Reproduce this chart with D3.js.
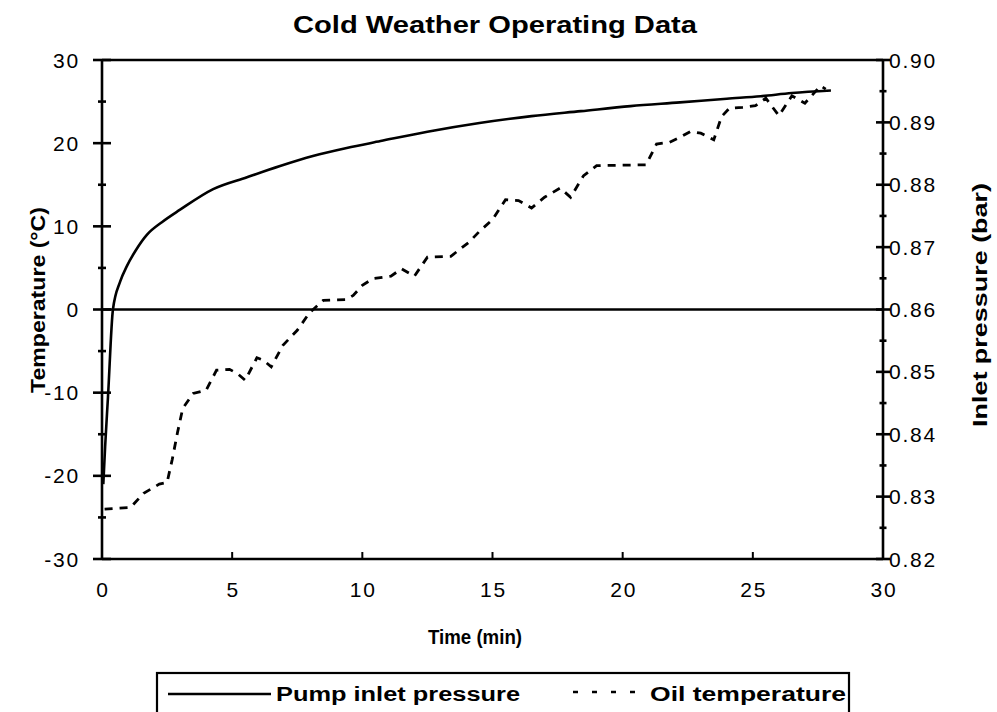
<!DOCTYPE html>
<html>
<head>
<meta charset="utf-8">
<script src="https://cdn.jsdelivr.net/npm/d3@7"></script>
<style>
  body { margin: 0; background: #fff; }
  svg { display: block; font-family: "Liberation Sans", Arial, sans-serif; }
</style>
</head>
<body>
<svg id="svg" width="997" height="712"></svg>
<script>
// values
const pumpTime = [0.05, 0.12, 0.23, 0.42, 0.7, 0.96, 1.3, 1.73, 2.3, 3.0, 4.27, 5.57, 6.84, 8.1, 9.4, 10.7, 12.5, 14.5, 16.5, 18.4, 20.3, 22.2, 24.0, 25.3, 26.5, 28.0];
const pumpPressure = [0.832, 0.838, 0.846, 0.860, 0.8645, 0.867, 0.8695, 0.872, 0.874, 0.876, 0.8793, 0.8812, 0.883, 0.8846, 0.8859, 0.887, 0.8885, 0.8899, 0.891, 0.8918, 0.8926, 0.8932, 0.8938, 0.8942, 0.8947, 0.8951];

const oilTime = [0.1, 1.1, 1.6, 2.2, 2.5, 2.7, 2.9, 3.1, 3.5, 4.0, 4.4, 4.9, 5.2, 5.5, 5.95, 6.2, 6.5, 6.95, 7.5, 7.97, 8.5, 9.4, 9.65, 10.0, 10.4, 11.1, 11.5, 12.0, 12.5, 13.4, 14.1, 14.5, 15.0, 15.5, 16.0, 16.5, 17.0, 17.6, 18.0, 18.5, 19.0, 20.9, 21.3, 21.8, 22.2, 22.6, 23.0, 23.5, 23.8, 24.1, 24.6, 25.1, 25.5, 26.0, 26.5, 27.0, 27.6, 27.8];
const oilTemp = [-24, -23.8, -22.1, -21, -20.8, -18, -14.8, -11.9, -10.1, -9.7, -7.3, -7.2, -7.7, -8.5, -5.8, -6.1, -6.9, -4.3, -2.5, -0.4, 1.1, 1.2, 1.7, 2.9, 3.7, 4.0, 4.9, 4.0, 6.3, 6.4, 8.1, 9.4, 10.8, 13.2, 13.1, 12.2, 13.5, 14.6, 13.5, 16.1, 17.3, 17.4, 19.9, 20.1, 20.7, 21.4, 21.2, 20.4, 23.2, 24.2, 24.3, 24.5, 25.4, 23.3, 25.7, 24.8, 26.9, 26.5];

const timeTicks = [0, 5, 10, 15, 20, 25, 30];
const tempTicks = [-30, -20, -10, 0, 10, 20, 30];
const pressTicks = [0.82, 0.83, 0.84, 0.85, 0.86, 0.87, 0.88, 0.89, 0.90];

const svg = d3.select("#svg");

const LEFT = 102, RIGHT = 883, TOP = 60, BOTTOM = 559;
const STROKE = 2.6;

const x = d3.scaleLinear().domain([0, 30]).range([LEFT, RIGHT]);
const yT = d3.scaleLinear().domain([-30, 30]).range([BOTTOM, TOP]);
const yP = d3.scaleLinear().domain([0.82, 0.90]).range([BOTTOM, TOP]);

// frame lines: top border, zero line, bottom axis, side axes
const g = svg.append("g").attr("stroke", "#000").attr("stroke-width", STROKE);
[30, 0, -30].forEach((v) => {
	g.append("line").attr("x1", x(0)).attr("x2", x(30)).attr("y1", yT(v)).attr("y2", yT(v));
});
g.append("line").attr("x1", x(0)).attr("x2", x(0)).attr("y1", yT(30)).attr("y2", yT(-30));
g.append("line").attr("x1", x(30)).attr("x2", x(30)).attr("y1", yT(30)).attr("y2", yT(-30));

// left axis ticks (cross the axis)
const tempMinor = d3.range(-25, 30, 10);
g.selectAll(".tmaj").data(tempTicks).join("line")
	.attr("class", "tmaj")
	.attr("x1", x(0) - 9).attr("x2", x(0) + 9)
	.attr("y1", (d) => yT(d)).attr("y2", (d) => yT(d));
g.selectAll(".tmin").data(tempMinor).join("line")
	.attr("class", "tmin")
	.attr("x1", x(0) - 4).attr("x2", x(0) + 4)
	.attr("y1", (d) => yT(d)).attr("y2", (d) => yT(d));

// right axis ticks
const pressMinor = d3.range(0.825, 0.9, 0.01);
g.selectAll(".pmaj").data(pressTicks).join("line")
	.attr("class", "pmaj")
	.attr("x1", x(30) - 7).attr("x2", x(30) + 7)
	.attr("y1", (d) => yP(d)).attr("y2", (d) => yP(d));
g.selectAll(".pmin").data(pressMinor).join("line")
	.attr("class", "pmin")
	.attr("x1", x(30) - 3.5).attr("x2", x(30) + 3.5)
	.attr("y1", (d) => yP(d)).attr("y2", (d) => yP(d));

// bottom ticks, pointing up
g.selectAll(".xt").data(timeTicks.slice(1, -1)).join("line")
	.attr("class", "xt")
	.attr("stroke-width", 2)
	.attr("x1", (d) => x(d)).attr("x2", (d) => x(d))
	.attr("y1", BOTTOM).attr("y2", BOTTOM - 7);

// tick labels
const tickFont = (sel) => sel.attr("font-size", 21).attr("letter-spacing", 1.8).attr("fill", "#000");

svg.append("g").selectAll("text").data(tempTicks).join("text")
	.call(tickFont)
	.attr("x", 80).attr("y", (d) => yT(d) + 7.5)
	.attr("text-anchor", "end")
	.text((d) => d);

svg.append("g").selectAll("text").data(pressTicks).join("text")
	.call(tickFont)
	.attr("x", 889).attr("y", (d) => yP(d) + 7.5)
	.text((d) => d.toFixed(2));

svg.append("g").selectAll("text").data(timeTicks).join("text")
	.call(tickFont)
	.attr("x", (d) => x(d) + 1).attr("y", 597)
	.attr("text-anchor", "middle")
	.text((d) => d);

// series
const pumpData = pumpTime.map((t, i) => ({ t, v: pumpPressure[i] }));
const oilData = oilTime.map((t, i) => ({ t, v: oilTemp[i] }));

svg.append("path")
	.datum(pumpData)
	.attr("fill", "none").attr("stroke", "#000").attr("stroke-width", STROKE)
	.attr("d", d3.line().x((d) => x(d.t)).y((d) => yP(d.v)).curve(d3.curveMonotoneX));

svg.append("path")
	.datum(oilData)
	.attr("fill", "none").attr("stroke", "#000").attr("stroke-width", 2.8)
	.attr("stroke-dasharray", "8,7")
	.attr("d", d3.line().x((d) => x(d.t)).y((d) => yT(d.v)));

// titles
const bold = (sel) => sel.attr("font-weight", "bold").attr("fill", "#000").attr("lengthAdjust", "spacingAndGlyphs");

svg.append("text").call(bold)
	.attr("x", 293).attr("y", 33).attr("font-size", 23).attr("textLength", 404)
	.text("Cold Weather Operating Data");

svg.append("text").call(bold)
	.attr("x", 428).attr("y", 644).attr("font-size", 21).attr("textLength", 94)
	.text("Time (min)");

svg.append("text").call(bold)
	.attr("transform", "translate(45,393) rotate(-90)")
	.attr("font-size", 20).attr("textLength", 186)
	.text("Temperature (°C)");

svg.append("text").call(bold)
	.attr("transform", "translate(987,427) rotate(-90)")
	.attr("font-size", 20).attr("textLength", 244)
	.text("Inlet pressure (bar)");

// legend
const legend = svg.append("g");
legend.append("rect")
	.attr("x", 157).attr("y", 673).attr("width", 692).attr("height", 60)
	.attr("fill", "none").attr("stroke", "#000").attr("stroke-width", 2.2);
legend.append("line")
	.attr("x1", 168).attr("x2", 271).attr("y1", 694).attr("y2", 694)
	.attr("stroke", "#000").attr("stroke-width", STROKE);
legend.append("text").call(bold)
	.attr("x", 276).attr("y", 701).attr("font-size", 20).attr("textLength", 244)
	.text("Pump inlet pressure");
legend.append("line")
	.attr("x1", 573).attr("x2", 636).attr("y1", 692).attr("y2", 692)
	.attr("stroke", "#000").attr("stroke-width", 2.6)
	.attr("stroke-dasharray", "5,14");
legend.append("text").call(bold)
	.attr("x", 650).attr("y", 701).attr("font-size", 20).attr("textLength", 196)
	.text("Oil temperature");
</script>
</body>
</html>
